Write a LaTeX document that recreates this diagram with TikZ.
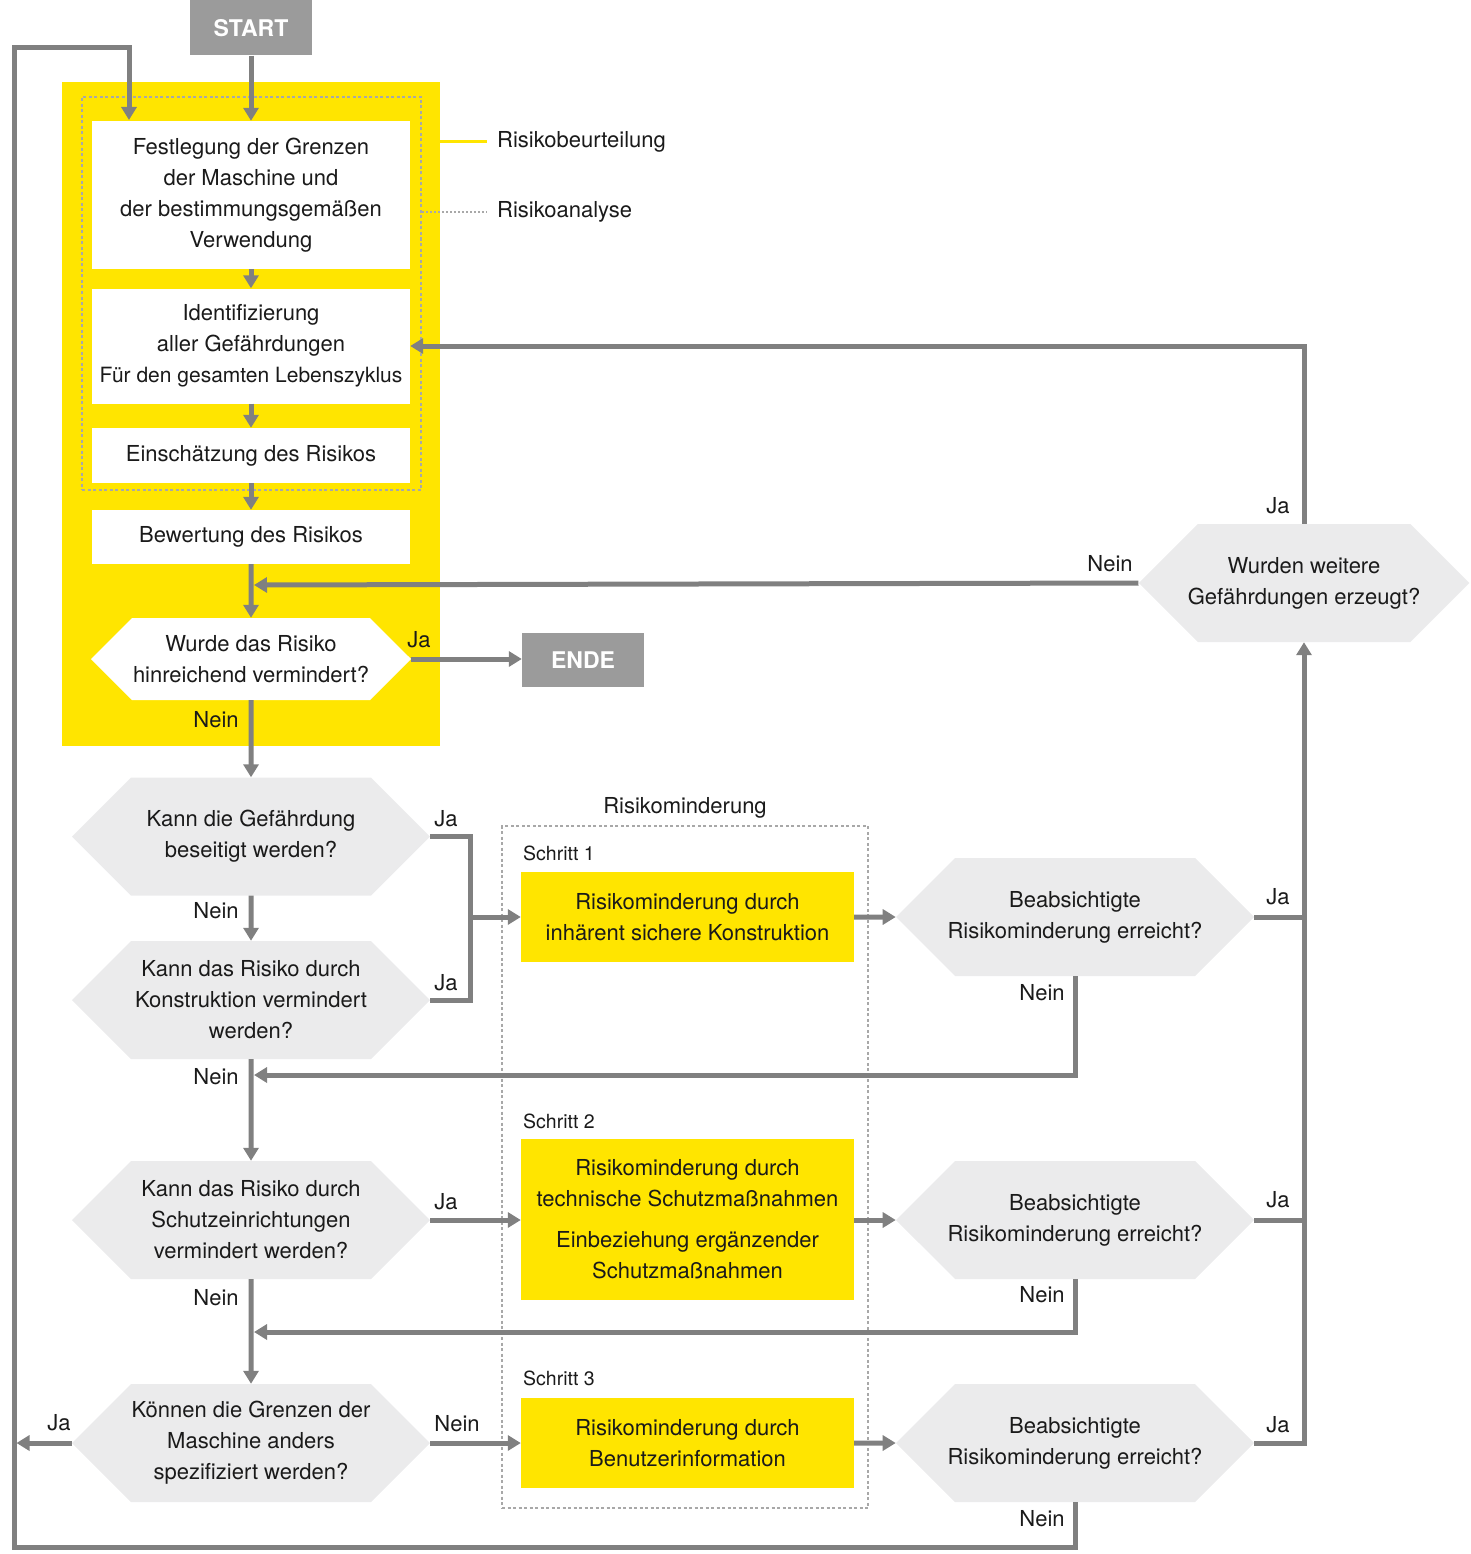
\documentclass[tikz,border=0pt]{standalone}
\usepackage{fontspec}
\setmainfont{TeX Gyre Heros}
\usetikzlibrary{arrows.meta,shapes.symbols}
\definecolor{linegray}{HTML}{808080}
\definecolor{termgray}{HTML}{9B9B9B}
\definecolor{hexgray}{HTML}{EBEBEC}
\definecolor{dotgray}{HTML}{A8A8A8}
\definecolor{ylw}{HTML}{FFE500}
\definecolor{textblack}{HTML}{1A1A1A}
\tikzset{
  base/.style={font=\fontsize{22}{31}\selectfont, text=textblack, align=center, inner sep=0pt},
  whitebox/.style={base, fill=white, minimum width=318pt},
  stepbox/.style={base, fill=ylw, minimum width=333pt},
  hexbox/.style={base, signal, signal to=west and east, signal pointer angle=90,
    fill=hexgray, minimum width=358pt, minimum height=118pt, inner xsep=-10pt},
  termbox/.style={fill=termgray, text=white, font=\fontsize{23}{26}\selectfont\bfseries,
    minimum width=122pt, minimum height=55pt, inner sep=0pt},
  lbl/.style={font=\fontsize{22}{26}\selectfont, text=textblack, inner sep=0pt},
  small/.style={lbl, font=\fontsize{19.5}{22}\selectfont, anchor=west},
  flow/.style={draw=linegray, line width=5pt},
  arr/.style={flow, -{Triangle[length=13pt,width=15pt]}},
  dotbox/.style={draw=dotgray, line width=2.5pt, dash pattern=on 3pt off 2.5pt, inner sep=0pt},
}
\begin{document}
\begin{tikzpicture}[x=1pt,y=-1pt]
  \useasboundingbox (0,0) rectangle (1471,1554);
  % containers
  \node[fill=ylw, minimum width=378pt, minimum height=664pt, inner sep=0pt] (beurt) at (251,414) {};
  \node[dotbox, minimum width=339pt, minimum height=393pt] (analyse) at (251.5,293.5) {};
  \node[dotbox, minimum width=366pt, minimum height=682pt] (minder) at (685,1167) {};
  \node[lbl] (rml) at (685,808) {Risikominderung};

  % risk assessment
  \node[termbox] (start) at (251,28) {START};
  \node[whitebox, minimum height=148pt] (fest) at (251,195)
    {Festlegung der Grenzen\\der Maschine und\\der bestimmungsgemäßen\\Verwendung};
  \node[whitebox, minimum height=115pt] (ident) at (251,346)
    {Identifizierung\\aller Gefährdungen\\{\fontsize{21}{31}\selectfont Für den gesamten Lebenszyklus}};
  \node[whitebox, minimum height=55pt] (einsch) at (251,455.5) {Einschätzung des Risikos};
  \node[whitebox, minimum height=54pt] (bewert) at (251,537) {Bewertung des Risikos};
  \node[hexbox, fill=white, minimum width=320pt, minimum height=82pt, inner xsep=0pt] (hexR) at (251,659)
    {Wurde das Risiko\\hinreichend vermindert?};
  \node[termbox, minimum height=54pt] (ende) at (583,660) {ENDE};

  % legend
  \node[lbl, anchor=west] (rbl) at (497,142) {Risikobeurteilung};
  \node[lbl, anchor=west] (ral) at (497,212) {Risikoanalyse};
  \draw[ylw, line width=3pt] (beurt.east |- rbl.west) -- ([xshift=-10pt]rbl.west);
  \draw[dotgray, line width=2pt, dash pattern=on 2pt off 2pt]
    (analyse.east |- ral.west) -- ([xshift=-10pt]ral.west);

  % questions
  \node[hexbox] (hexA) at (251,836.5) {Kann die Gefährdung\\beseitigt werden?};
  \node[hexbox] (hexB) at (251,1000) {Kann das Risiko durch\\Konstruktion vermindert\\werden?};
  \node[hexbox] (hexD) at (251,1220) {Kann das Risiko durch\\Schutzeinrichtungen\\vermindert werden?};
  \node[hexbox] (hexE) at (251,1443) {Können die Grenzen der\\Maschine anders\\spezifiziert werden?};
  \node[hexbox, minimum width=328pt] (hexW) at (1304,583) {Wurden weitere\\Gefährdungen erzeugt?};

  % three steps
  \node[small] (s1) at (523,853) {Schritt 1};
  \node[small] (s2) at (523,1121) {Schritt 2};
  \node[small] (s3) at (523,1378) {Schritt 3};
  \node[stepbox, minimum height=90pt] (step1) at (687.5,917)
    {Risikominderung durch\\inhärent sichere Konstruktion};
  \node[stepbox, minimum height=161pt] (step2) at (687.5,1219.5)
    {Risikominderung durch\\technische Schutzmaßnahmen\\[10pt]Einbeziehung ergänzender\\Schutzmaßnahmen};
  \node[stepbox, minimum height=90pt] (step3) at (687.5,1443)
    {Risikominderung durch\\Benutzerinformation};
  \node[hexbox] (hexC1) at (1075,917) {Beabsichtigte\\Risikominderung erreicht?};
  \node[hexbox] (hexC2) at (1075,1220) {Beabsichtigte\\Risikominderung erreicht?};
  \node[hexbox] (hexC3) at (1075,1443) {Beabsichtigte\\Risikominderung erreicht?};

  % helper points
  \coordinate (merge) at (470,917);
  \coordinate (backR) at (254,585);
  \coordinate (backB) at (254,1075);
  \coordinate (backD) at (254,1332);
  \coordinate (loopBL) at (14,1547);
  \coordinate (loopTL) at (14,48);
  \coordinate (festin) at (129,120);

  % connectors
  \draw[arr] (start) -- (fest);
  \draw[arr] (fest) -- (ident);
  \draw[arr] (ident) -- (einsch);
  \draw[arr] (einsch) -- (bewert);
  \draw[arr] (bewert) -- (hexR);
  \draw[arr] (hexR.east) -- (hexR.east -| ende.west);
  \draw[arr] (hexR) -- (hexA);
  \draw[arr] (hexA) -- (hexB);
  \draw[arr] (hexB) -- (hexD);
  \draw[arr] (hexD) -- (hexE);
  \draw[flow] (hexA.east) -| (merge) |- (hexB.east);
  \draw[arr] (merge) -- (step1);
  \draw[arr] (hexD.east) -- (hexD.east -| step2.west);
  \draw[arr] (hexE.east) -- (hexE.east -| step3.west);
  \draw[arr] (step1) -- (hexC1);
  \draw[arr] (step2.east |- hexC2.west) -- (hexC2.west);
  \draw[arr] (step3) -- (hexC3);
  \draw[flow] (hexC1.east) -- (hexC1.east -| hexW.south);
  \draw[flow] (hexC2.east) -- (hexC2.east -| hexW.south);
  \draw[arr] (hexC3.east) -| (hexW.south);
  \draw[arr] (hexC1.south) |- (backB);
  \draw[arr] (hexC2.south) |- (backD);
  \draw[arr] (hexW.west) -- (backR);
  \draw[arr] (hexW.north) |- (ident.east);
  \draw[arr] (hexC3.south) |- (loopBL) -- (loopTL) -| (festin);
  \draw[arr, shorten >=2.5pt] (hexE.west) -- (hexE.west -| loopBL);

  % labels
  \node[lbl] (jaR) at (419,640) {Ja};
  \node[lbl] (neinR) at (216,720) {Nein};
  \node[lbl] (neinW) at (1110,564) {Nein};
  \node[lbl] (jaW) at (1278,506) {Ja};
  \node[lbl] (jaA) at (446,819) {Ja};
  \node[lbl] (neinA) at (216,911) {Nein};
  \node[lbl] (jaB) at (446,983) {Ja};
  \node[lbl] (neinB) at (216,1077) {Nein};
  \node[lbl] (jaD) at (446,1202) {Ja};
  \node[lbl] (neinD) at (216,1298) {Nein};
  \node[lbl] (jaE) at (59,1423) {Ja};
  \node[lbl] (neinE) at (457,1424) {Nein};
  \node[lbl] (jaC1) at (1278,897) {Ja};
  \node[lbl] (neinC1) at (1042,993) {Nein};
  \node[lbl] (jaC2) at (1278,1200) {Ja};
  \node[lbl] (neinC2) at (1042,1295) {Nein};
  \node[lbl] (jaC3) at (1278,1425) {Ja};
  \node[lbl] (neinC3) at (1042,1519) {Nein};
\end{tikzpicture}
\end{document}
